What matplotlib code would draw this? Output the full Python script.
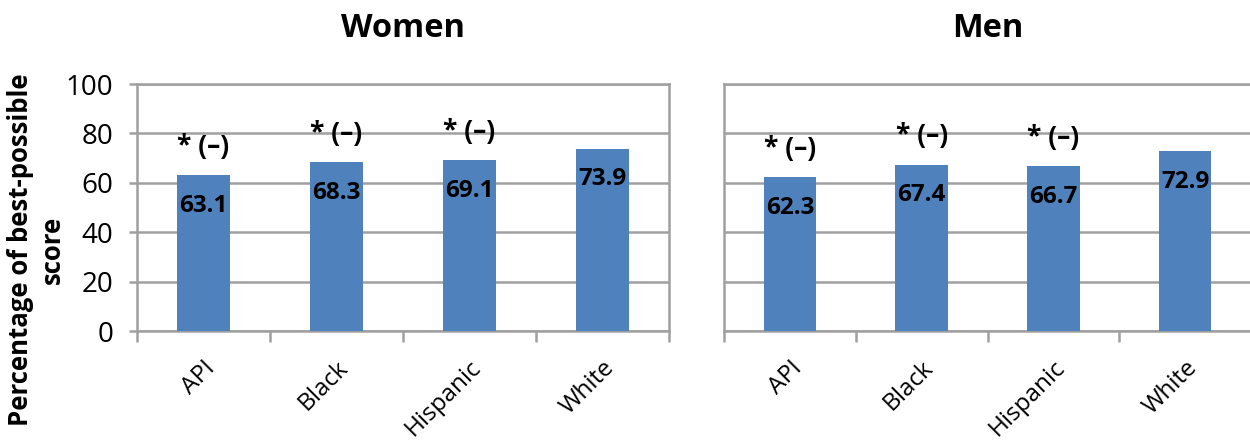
import matplotlib
matplotlib.use("Agg")
import matplotlib.pyplot as plt

plt.rcParams['font.family'] = ['Open Sans', 'DejaVu Sans']

CATEGORIES = ['API', 'Black', 'Hispanic', 'White']
WOMEN = [63.1, 68.3, 69.1, 73.9]
MEN = [62.3, 67.4, 66.7, 72.9]
SIG_MARKS = ['* (\u2013)', '* (\u2013)', '* (\u2013)', '']

BAR_COLOR = '#4F81BD'
GRID_COLOR = '#A0A0A0'


def draw_panel(ax, values, title, show_yticks):
    x = list(range(len(values)))
    ax.bar(x, values, width=0.4, color=BAR_COLOR, zorder=3)

    for xi, v, mark in zip(x, values, SIG_MARKS):
        ax.annotate('{:.1f}'.format(v), (xi, v), xytext=(0, -22), textcoords='offset points',
                    ha='center', va='center', fontsize=17.5, fontweight='bold', zorder=4)
        if mark:
            ax.annotate(mark, (xi, v), xytext=(0, 21), textcoords='offset points',
                        ha='center', va='center', fontsize=19, fontweight='bold', zorder=4)

    ax.set_ylim(0, 100)
    ax.set_xlim(-0.5, 3.5)
    ax.set_yticks(range(0, 101, 20))
    ax.grid(axis='y', color=GRID_COLOR, linewidth=1.8, zorder=0)

    # tick marks between categories, labels under the bars
    ax.set_xticks([i - 0.5 for i in range(len(values) + 1)])
    ax.set_xticklabels([])
    ax.set_xticks(x, minor=True)
    ax.set_xticklabels(CATEGORIES, minor=True, rotation=45, ha='right', va='top',
                       rotation_mode='anchor', fontsize=17.5)
    ax.tick_params(axis='x', which='major', length=8, color=GRID_COLOR, width=1.8)
    ax.tick_params(axis='x', which='minor', length=0, pad=18)
    ax.tick_params(axis='y', length=6, color=GRID_COLOR, width=1.8, labelsize=20, pad=11)
    if not show_yticks:
        ax.tick_params(axis='y', labelleft=False, length=0)

    for sp in ax.spines.values():
        sp.set_color(GRID_COLOR)
        sp.set_linewidth(1.8)

    ax.set_title(title, fontsize=23.5, fontweight='bold', pad=34)


def main():
    fig = plt.figure(figsize=(12.5, 4.45), dpi=100)

    ax1 = fig.add_axes([0.1096, 0.256, 0.4256, 0.555])
    ax2 = fig.add_axes([0.5792, 0.256, 0.4216, 0.555])

    draw_panel(ax1, WOMEN, 'Women', True)
    draw_panel(ax2, MEN, 'Men', False)
    ax2.title.set_y(1.035)
    for lbl in ax2.get_xticklabels(minor=True) + ax1.get_xticklabels(minor=True):
        lbl.set_x(lbl.get_position()[0] + 0.05)

    fig.text(0.029, 1 - 250 / 445, 'Percentage of best-possible\nscore', rotation=90,
             ha='center', va='center', multialignment='center', linespacing=1.25,
             fontsize=18.5, fontweight='bold')

    fig.savefig('out.png', dpi=100)


if __name__ == '__main__':
    main()
